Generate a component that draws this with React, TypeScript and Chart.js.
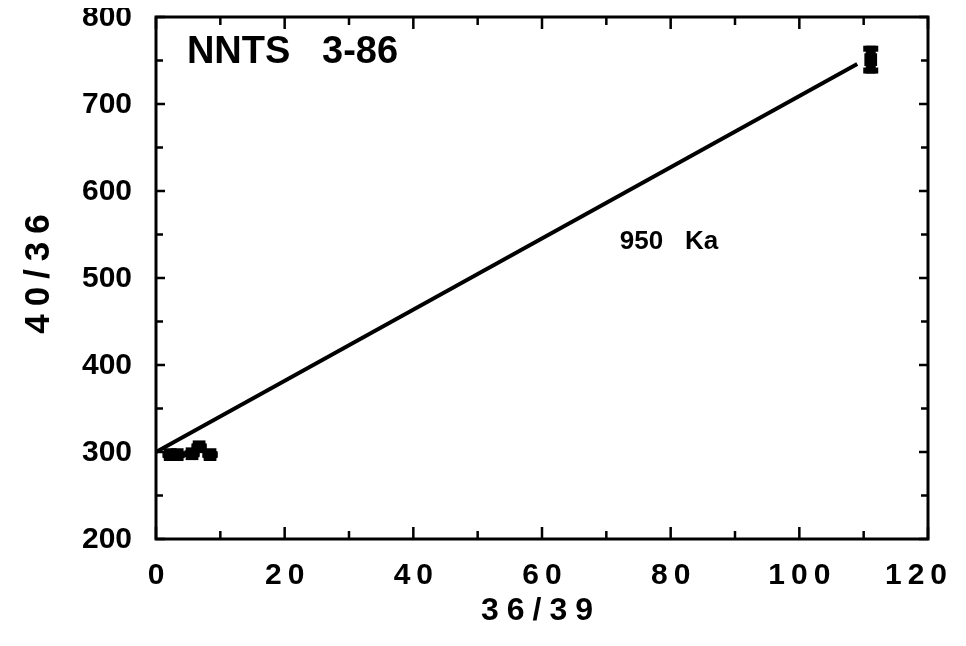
import React, { useEffect, useRef } from "react";
import { Chart, registerables } from "chart.js";

Chart.register(...registerables);

const X_TICKS = [0, 20, 40, 60, 80, 100, 120];
const X_MINOR = [10, 30, 50, 70, 90, 110];
const Y_TICKS = [200, 300, 400, 500, 600, 700, 800];
const Y_MINOR = [250, 350, 450, 550, 650, 750];
const X_TICK_LABELS = ["0", "20", "40", "60", "80", "100", "120"];
const Y_TICK_LABELS = ["200", "300", "400", "500", "600", "700", "800"];

const PT_X = [2.2, 3.3, 5.6, 6.7, 8.4, 111.1];
const PT_Y = [297, 297, 298, 306, 297, 751];
const PT_ERR = [4, 4, 4, 4, 4, 16];

const FIT_X = [0, 109];
const FIT_Y = [300, 746];

const TITLE = "NNTS   3-86";
const TITLE_POS = [4.8, 759];
const NOTE = "950   Ka";
const NOTE_POS = [72.1, 542];
const X_TITLE = "36/39";
const Y_TITLE = "40/36";

const FONT = '"Liberation Sans", Arial, Helvetica, sans-serif';

function spaced(ctx: CanvasRenderingContext2D, text: string, x: number, y: number, spacing: number, maxRight?: number) {
  (ctx as any).letterSpacing = "0px";
  ctx.textAlign = "left";
  const base = ctx.measureText(text).width;
  const w = base + spacing * (text.length - 1);
  let left = x - w / 2;
  if (maxRight !== undefined && left + w > maxRight) left = maxRight - w;
  (ctx as any).letterSpacing = spacing + "px";
  ctx.fillText(text, left, y);
  (ctx as any).letterSpacing = "0px";
}

const customPlugin = {
  id: "custom",
  beforeDatasetsDraw(chart: any) {
    const ctx = chart.ctx;
    const xs = chart.scales.x;
    const ys = chart.scales.y;
    ctx.save();
    ctx.fillStyle = "#000";
    PT_X.forEach((xv, i) => {
      const px = xs.getPixelForValue(xv);
      const top = ys.getPixelForValue(PT_Y[i] + PT_ERR[i]);
      const bot = ys.getPixelForValue(PT_Y[i] - PT_ERR[i]);
      ctx.fillRect(px - 5, top, 10, bot - top);
      ctx.fillRect(px - 7.5, top, 15, 6);
      ctx.fillRect(px - 7.5, bot - 6, 15, 6);
    });
    ctx.restore();
  },
  afterDraw(chart: any) {
    const ctx: CanvasRenderingContext2D = chart.ctx;
    const a = chart.chartArea;
    const xs = chart.scales.x;
    const ys = chart.scales.y;
    ctx.save();
    ctx.strokeStyle = "#000";
    ctx.lineWidth = 3;
    ctx.strokeRect(a.left, a.top, a.right - a.left, a.bottom - a.top);
    ctx.lineWidth = 2.5;
    ctx.beginPath();
    const xt = (v: number, len: number) => {
      const p = xs.getPixelForValue(v);
      ctx.moveTo(p, a.bottom);
      ctx.lineTo(p, a.bottom - len);
      ctx.moveTo(p, a.top);
      ctx.lineTo(p, a.top + len);
    };
    const yt = (v: number, len: number) => {
      const p = ys.getPixelForValue(v);
      ctx.moveTo(a.left, p);
      ctx.lineTo(a.left + len, p);
      ctx.moveTo(a.right, p);
      ctx.lineTo(a.right - len, p);
    };
    X_TICKS.forEach((v) => xt(v, 12));
    X_MINOR.forEach((v) => xt(v, 8));
    Y_TICKS.forEach((v) => yt(v, 9));
    Y_MINOR.forEach((v) => yt(v, 7));
    ctx.stroke();

    ctx.fillStyle = "#000";
    ctx.textBaseline = "middle";

    ctx.font = `bold 30px ${FONT}`;
    ctx.textAlign = "right";
    Y_TICKS.forEach((v, i) => {
      ctx.fillText(Y_TICK_LABELS[i], a.left - 24, ys.getPixelForValue(v) + 1);
    });

    X_TICKS.forEach((v, i) => {
      spaced(ctx, X_TICK_LABELS[i], xs.getPixelForValue(v), a.bottom + 37, 6, 939);
    });

    ctx.font = `bold 32px ${FONT}`;
    spaced(ctx, X_TITLE, (a.left + a.right) / 2 - 5, a.bottom + 72, 8);

    ctx.save();
    ctx.font = `bold 35px ${FONT}`;
    ctx.translate(31, 266);
    ctx.rotate(-Math.PI / 2);
    spaced(ctx, Y_TITLE, 0, 0, 8);
    ctx.restore();

    ctx.textAlign = "left";
    ctx.font = `bold 38px ${FONT}`;
    ctx.fillText(TITLE, xs.getPixelForValue(TITLE_POS[0]), ys.getPixelForValue(TITLE_POS[1]));
    ctx.font = `bold 26px ${FONT}`;
    ctx.fillText(NOTE, xs.getPixelForValue(NOTE_POS[0]), ys.getPixelForValue(NOTE_POS[1]));
    ctx.restore();
  },
};

export default function App() {
  const ref = useRef<HTMLCanvasElement | null>(null);
  useEffect(() => {
    if (!ref.current) return;
    const pts = PT_X.map((x, i) => ({ x, y: PT_Y[i] }));
    const chart = new Chart(ref.current, {
      type: "scatter",
      data: {
        datasets: [
          {
            type: "line",
            data: FIT_X.map((x, i) => ({ x, y: FIT_Y[i] })),
            borderColor: "#000",
            borderWidth: 4,
            pointRadius: 0,
            showLine: true,
            fill: false,
          } as any,
          {
            data: pts,
            pointStyle: "rect",
            pointRadius: 9,
            backgroundColor: "#000",
            borderWidth: 0,
          },
          {
            data: pts,
            pointStyle: "rect",
            pointRadius: 4.5,
            backgroundColor: "#fff",
            borderWidth: 0,
          },
          {
            data: pts,
            pointStyle: "circle",
            pointRadius: 1.6,
            backgroundColor: "#000",
            borderWidth: 0,
          },
        ],
      },
      options: {
        animation: false,
        responsive: true,
        maintainAspectRatio: false,
        layout: { padding: { top: 6, right: 30, left: 0, bottom: 0 } },
        plugins: { legend: { display: false }, tooltip: { enabled: false } },
        scales: {
          x: {
            type: "linear",
            min: 0,
            max: 120,
            grid: { display: false, drawTicks: false },
            border: { display: false },
            ticks: { display: false },
            afterFit: (s: any) => {
              s.height = 99;
            },
          },
          y: {
            type: "linear",
            min: 200,
            max: 800,
            grid: { display: false, drawTicks: false },
            border: { display: false },
            ticks: { display: false },
            afterFit: (s: any) => {
              s.width = 148;
            },
          },
        },
      },
      plugins: [customPlugin],
    });
    return () => chart.destroy();
  }, []);
  return (
    <div style={{ width: 950, height: 630, position: "relative" }}>
      <canvas ref={ref} />
    </div>
  );
}
